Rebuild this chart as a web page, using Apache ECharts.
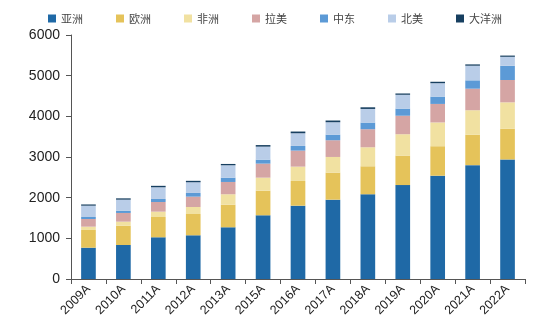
<!DOCTYPE html>
<html>
<head>
<meta charset="utf-8">
<script src="https://cdn.jsdelivr.net/npm/echarts@6/dist/echarts.min.js"></script>
<style>html,body{margin:0;padding:0;background:#fff;}#c{width:550px;height:330px;}</style>
</head>
<body>
<div id="c"></div>
<script>
var categories = ['2009A','2010A','2011A','2012A','2013A','2015A','2016A','2017A','2018A','2019A','2020A','2021A','2022A'];
var asia     = [770, 836, 1026, 1075, 1272, 1567, 1803, 1951, 2084, 2310, 2540, 2800, 2940];
var europe   = [436, 475, 499, 524, 556, 605, 608, 665, 688, 725, 725, 745, 752];
var africa   = [81, 99, 131, 172, 256, 320, 352, 385, 468, 525, 585, 605, 652];
var latam    = [189, 214, 238, 254, 302, 345, 394, 411, 443, 455, 455, 530, 549];
var mideast  = [49, 56, 74, 91, 106, 98, 115, 138, 163, 175, 180, 205, 350];
var namerica = [278, 271, 288, 263, 305, 320, 312, 305, 336, 340, 330, 360, 221];
var oceania  = [30, 32, 35, 35, 32, 38, 42, 42, 40, 32, 35, 32, 30];
var yTicks = [0, 1000, 2000, 3000, 4000, 5000, 6000];

var names = ['亚洲','欧洲','非洲','拉美','中东','北美','大洋洲'];
var colors = ['#1f69a6','#e5c35a','#f1e1a1','#d5a5a4','#5c9ad6','#b9cde8','#173f60'];
var datasets = [asia, europe, africa, latam, mideast, namerica, oceania];

var chart = echarts.init(document.getElementById('c'));
chart.setOption({
  animation: false,
  backgroundColor: '#fff',
  textStyle: { fontFamily: 'Liberation Sans, Arial, sans-serif' },
  legend: {
    top: 8, left: 'center',
    itemWidth: 8, itemHeight: 8, itemGap: 33,
    icon: 'rect',
    textStyle: { fontSize: 11, color: '#444', fontFamily: 'Noto Sans CJK SC' },
    data: names
  },
  grid: { left: 71, right: 25, top: 35, bottom: 51 },
  xAxis: {
    type: 'category',
    data: categories,
    axisLine: { lineStyle: { color: '#555', width: 1 } },
    axisTick: { show: true, length: 5, lineStyle: { color: '#555' } },
    axisLabel: { rotate: 45, fontSize: 12.5, color: '#222', margin: 8 }
  },
  yAxis: {
    type: 'value',
    min: yTicks[0], max: yTicks[yTicks.length - 1], interval: 1000,
    splitLine: { show: false },
    axisLine: { show: true, lineStyle: { color: '#555', width: 1 } },
    axisTick: { show: true, length: 5, lineStyle: { color: '#555' } },
    axisLabel: { fontSize: 14, color: '#222', margin: 11, formatter: function (v) { return String(v); } }
  },
  series: datasets.map(function (d, i) {
    return {
      name: names[i], type: 'bar', stack: 'total', data: d,
      barWidth: '42%',
      itemStyle: { color: colors[i] }
    };
  })
});
</script>
</body>
</html>
